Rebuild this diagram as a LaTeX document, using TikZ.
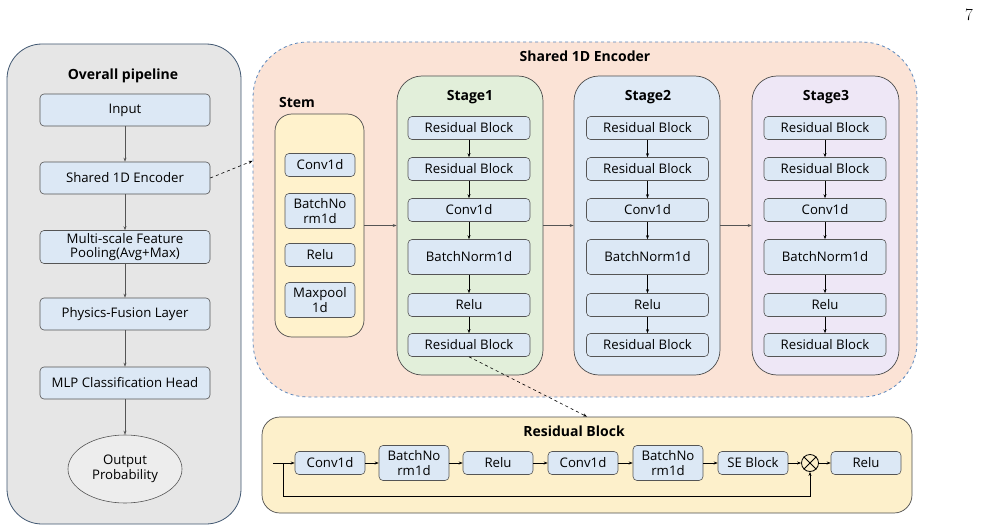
\documentclass[tikz,border=0pt]{standalone}
\usepackage{fontspec}
\usepackage{tikz}
\usetikzlibrary{arrows.meta,shapes.geometric}
\newfontfamily\diagfont{Open Sans}
\definecolor{boxblue}{HTML}{DCE8F5}
\definecolor{boxline}{HTML}{555555}
\definecolor{pipegray}{HTML}{E6E6E6}
\definecolor{pipeline}{HTML}{3F5670}
\definecolor{encpeach}{HTML}{FBE3D6}
\definecolor{encdash}{HTML}{5A87BD}
\definecolor{stemyellow}{HTML}{FFF2CC}
\definecolor{stgreen}{HTML}{E2EFDA}
\definecolor{stblue}{HTML}{DFEAF6}
\definecolor{stlilac}{HTML}{EEE7F6}
\definecolor{resyellow}{HTML}{FDF0CB}
\definecolor{outgray}{HTML}{EDEDED}

\begin{document}
\begin{tikzpicture}[x=1pt,y=-1pt,
  font=\diagfont\fontsize{13.2}{14.5}\selectfont,
  blk/.style={draw=boxline,fill=boxblue,rounded corners=4pt,line width=.6pt,
    minimum width=122pt,minimum height=23pt,inner sep=1pt,align=center},
  tall/.style={minimum height=35pt},
  small/.style={minimum width=70pt},
  wide/.style={minimum width=170pt,minimum height=32pt},
  panel/.style={draw=boxline!90!black,line width=.7pt},
  ttl/.style={font=\diagfont\bfseries\fontsize{14}{16}\selectfont},
  arr/.style={-{Stealth[length=4pt,width=3pt]},line width=.6pt},
  garr/.style={arr,draw=boxline}]
\useasboundingbox (0,0) rectangle (984,532);

% page number
\node (pagenum) at (969,15) {\rmfamily\fontsize{17}{20}\selectfont 7};

% overall pipeline
\node[draw=pipeline,fill=pipegray,line width=.8pt,rounded corners=35pt,minimum width=234pt,minimum height=480pt] (pipe) at (124,284) {};
\node[ttl] (pipettl) at (123,76) {Overall pipeline};
\node[blk,wide] (input) at (125,110) {Input};
\node[blk,wide] (sharedenc) at (125,178) {Shared 1D Encoder};
\node[blk,wide,minimum height=33pt] (pool) at (125,247) {Multi-scale Feature\\Pooling(Avg+Max)};
\node[blk,wide] (fusion) at (125,314) {Physics-Fusion Layer};
\node[blk,wide] (head) at (125,383) {MLP Classification Head};
\node[ellipse,draw=boxline,fill=outgray,line width=.6pt,minimum width=114pt,minimum height=68pt,inner sep=0pt,align=center] (output) at (125,469) {Output\\Probability};
\draw[garr] (input) -- (sharedenc);
\draw[garr] (sharedenc) -- (pool);
\draw[garr] (pool) -- (fusion);
\draw[garr] (fusion) -- (head);
\draw[garr] (head) -- (output);

% shared 1D encoder
\node[draw=encdash,fill=encpeach,dashed,line width=.8pt,rounded corners=55pt,minimum width=664pt,minimum height=355pt] (enc) at (585,219.5) {};
\node[ttl] (encttl) at (585,56) {Shared 1D Encoder};
\draw[arr,dashed] (sharedenc.east) -- (enc.170);

% stem
\node[panel,fill=stemyellow,rounded corners=17pt,minimum width=89pt,minimum height=223pt] (stem) at (319.5,225.5) {};
\node[ttl] (stemttl) at (297,103) {Stem};
\node[blk,small] (stc) at (320,165) {Conv1d};
\node[blk,small,tall] (stb) at (320,211) {BatchNo\\rm1d};
\node[blk,small] (str) at (320,255) {Relu};
\node[blk,small,tall] (stm) at (320,300) {Maxpool\\1d};

% stage1
\node[panel,fill=stgreen,rounded corners=25pt,minimum width=146pt,minimum height=299pt] (stage1) at (470,225.5) {};
\node[ttl] (s1ttl) at (470,97) {Stage1};
\node[blk] (s1a) at (469,128) {Residual Block};
\node[blk] (s1b) at (469,169) {Residual Block};
\node[blk] (s1c) at (469,210) {Conv1d};
\node[blk,tall] (s1d) at (469,257) {BatchNorm1d};
\node[blk] (s1e) at (469,305) {Relu};
\node[blk] (s1f) at (469,345) {Residual Block};
\draw[arr] (s1a) -- (s1b);
\draw[arr] (s1b) -- (s1c);
\draw[arr] (s1c) -- (s1d);
\draw[arr] (s1d) -- (s1e);
\draw[arr] (s1e) -- (s1f);

% stage2
\node[panel,fill=stblue,rounded corners=25pt,minimum width=146pt,minimum height=299pt] (stage2) at (647,225.5) {};
\node[ttl] (s2ttl) at (648,97) {Stage2};
\node[blk] (s2a) at (647.5,128) {Residual Block};
\node[blk] (s2b) at (647.5,169) {Residual Block};
\node[blk] (s2c) at (647.5,210) {Conv1d};
\node[blk,tall] (s2d) at (647.5,257) {BatchNorm1d};
\node[blk] (s2e) at (647.5,305) {Relu};
\node[blk] (s2f) at (647.5,345) {Residual Block};
\draw[arr] (s2a) -- (s2b);
\draw[arr] (s2b) -- (s2c);
\draw[arr] (s2c) -- (s2d);
\draw[arr] (s2d) -- (s2e);
\draw[arr] (s2e) -- (s2f);

% stage3
\node[panel,fill=stlilac,rounded corners=25pt,minimum width=147pt,minimum height=299pt] (stage3) at (825.5,225.5) {};
\node[ttl] (s3ttl) at (826,97) {Stage3};
\node[blk] (s3a) at (825,128) {Residual Block};
\node[blk] (s3b) at (825,169) {Residual Block};
\node[blk] (s3c) at (825,210) {Conv1d};
\node[blk,tall] (s3d) at (825,257) {BatchNorm1d};
\node[blk] (s3e) at (825,305) {Relu};
\node[blk] (s3f) at (825,345) {Residual Block};
\draw[arr] (s3a) -- (s3b);
\draw[arr] (s3b) -- (s3c);
\draw[arr] (s3c) -- (s3d);
\draw[arr] (s3d) -- (s3e);
\draw[arr] (s3e) -- (s3f);

\draw[garr] (stem) -- (stage1);
\draw[garr] (stage1) -- (stage2);
\draw[garr] (stage2) -- (stage3);

% residual block
\node[panel,fill=resyellow,rounded corners=18pt,minimum width=650pt,minimum height=96pt] (res) at (587,465) {};
\node[ttl] (resttl) at (574,431) {Residual Block};
\draw[arr,dashed] (s1f.south) -- (res.north);
\coordinate (rin) at (273,463);
\coordinate (rsplit) at (283,463);
\node[blk,small] (rc1) at (330,463) {Conv1d};
\node[blk,small,tall] (rb1) at (414,463) {BatchNo\\rm1d};
\node[blk,small] (rr1) at (498,463) {Relu};
\node[blk,small] (rc2) at (583,463) {Conv1d};
\node[blk,small,tall] (rb2) at (668,463) {BatchNo\\rm1d};
\node[blk,small] (rse) at (753,463) {SE Block};
\node[circle,draw=black,line width=.8pt,minimum size=17pt,inner sep=0pt] (mul) at (810,463) {};
\draw[line width=.8pt] (mul.north west) -- (mul.south east) (mul.north east) -- (mul.south west);
\node[blk,small] (rr2) at (866,463) {Relu};
\draw[arr] (rin) -- (rc1);
\draw[arr] (rc1) -- (rb1);
\draw[arr] (rb1) -- (rr1);
\draw[arr] (rr1) -- (rc2);
\draw[arr] (rc2) -- (rb2);
\draw[arr] (rb2) -- (rse);
\draw[arr] (rse) -- (mul);
\draw[arr] (mul) -- (rr2);
\draw[arr] (rsplit) -- ++(0,33) -| (mul.south);
\end{tikzpicture}
\end{document}
